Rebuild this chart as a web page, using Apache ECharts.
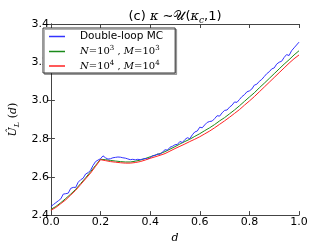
<!DOCTYPE html>
<html><head><meta charset="utf-8">
<script src="https://cdn.jsdelivr.net/npm/echarts@6/dist/echarts.min.js"></script>
<style>html,body{margin:0;padding:0;background:#fff}#c{width:332px;height:249px}</style>
</head><body><div id="c"></div>
<script>
var xTicks = [0.0, 0.2, 0.4, 0.6, 0.8, 1.0];
var yTicks = [2.4, 2.6, 2.8, 3.0, 3.2, 3.4];
var seriesNames = ['Double-loop MC', 'N=10^3 , M=10^3', 'N=10^4 , M=10^4'];

var dBlue = [0.00,0.01,0.02,0.03,0.04,0.05,0.06,0.07,0.08,0.09,0.10,0.11,0.12,0.13,0.14,0.15,0.16,0.17,0.18,0.19,0.20,0.21,0.22,0.23,0.24,0.25,0.26,0.27,0.28,0.29,0.30,0.31,0.32,0.33,0.34,0.35,0.36,0.37,0.38,0.39,0.40,0.41,0.42,0.43,0.44,0.45,0.46,0.47,0.48,0.49,0.50,0.51,0.52,0.53,0.54,0.55,0.56,0.57,0.58,0.59,0.60,0.61,0.62,0.63,0.64,0.65,0.66,0.67,0.68,0.69,0.70,0.71,0.72,0.73,0.74,0.75,0.76,0.77,0.78,0.79,0.80,0.81,0.82,0.83,0.84,0.85,0.86,0.87,0.88,0.89,0.90,0.91,0.92,0.93,0.94,0.95,0.96,0.97,0.98,0.99,1.00];
var blueMC = [2.445,2.455,2.465,2.475,2.485,2.51,2.512,2.515,2.54,2.545,2.545,2.572,2.585,2.593,2.615,2.622,2.635,2.66,2.68,2.688,2.695,2.71,2.70,2.693,2.695,2.70,2.702,2.704,2.703,2.70,2.698,2.694,2.69,2.692,2.689,2.692,2.69,2.693,2.696,2.694,2.70,2.71,2.712,2.72,2.718,2.73,2.742,2.74,2.755,2.76,2.768,2.77,2.785,2.78,2.795,2.805,2.80,2.82,2.835,2.84,2.86,2.857,2.872,2.885,2.89,2.892,2.905,2.92,2.918,2.935,2.948,2.95,2.965,2.975,2.992,2.99,3.005,3.02,3.03,3.045,3.05,3.06,3.08,3.085,3.10,3.11,3.125,3.14,3.15,3.165,3.17,3.19,3.20,3.205,3.225,3.24,3.235,3.26,3.275,3.29,3.305];

var dSmooth = [0.00,0.02,0.04,0.06,0.08,0.10,0.12,0.14,0.16,0.18,0.20,0.22,0.24,0.26,0.28,0.30,0.32,0.34,0.36,0.38,0.40,0.42,0.44,0.46,0.48,0.50,0.52,0.54,0.56,0.58,0.60,0.62,0.64,0.66,0.68,0.70,0.72,0.74,0.76,0.78,0.80,0.82,0.84,0.86,0.88,0.90,0.92,0.94,0.96,0.98,1.00];
var green3 = [2.43,2.445,2.465,2.487,2.51,2.535,2.565,2.595,2.627,2.66,2.692,2.69,2.686,2.683,2.68,2.678,2.678,2.682,2.688,2.696,2.705,2.714,2.722,2.732,2.745,2.758,2.772,2.785,2.797,2.812,2.826,2.842,2.857,2.874,2.893,2.91,2.93,2.95,2.972,2.995,3.018,3.04,3.066,3.09,3.115,3.14,3.165,3.19,3.213,3.238,3.26];
var red4 = [2.425,2.44,2.46,2.48,2.505,2.53,2.56,2.59,2.62,2.655,2.69,2.685,2.68,2.677,2.674,2.672,2.672,2.675,2.68,2.688,2.697,2.705,2.713,2.722,2.735,2.748,2.76,2.772,2.785,2.797,2.81,2.825,2.84,2.857,2.875,2.893,2.912,2.932,2.952,2.975,2.997,3.02,3.045,3.07,3.095,3.12,3.145,3.17,3.195,3.218,3.238];

function zip(xs, ys){ return xs.map(function(x,i){ return [x, ys[i]]; }); }

var chart = echarts.init(document.getElementById('c'), null, {renderer:'canvas'});
var axisCol = '#444';
var mathRich = {
  i: {fontFamily:'DejaVu Serif', fontStyle:'italic', fontSize:10, color:'#000'},
  n: {fontFamily:'DejaVu Serif', fontSize:10, color:'#000'},
  s: {fontFamily:'DejaVu Serif', fontSize:7, color:'#000', padding:[0,0,6,0]},
  t: {fontFamily:'DejaVu Sans', fontSize:10.5, color:'#000'}
};
var legendFmt = {};
legendFmt[seriesNames[0]] = '{t|Double-loop MC}';
legendFmt[seriesNames[1]] = '{i|N}{n|=10}{s|3}{n| , }{i|M}{n|=10}{s|3}';
legendFmt[seriesNames[2]] = '{i|N}{n|=10}{s|4}{n| , }{i|M}{n|=10}{s|4}';

var option = {
  animation: false,
  backgroundColor: '#fff',
  title: {
    text: '{a|(c) }{k|κ}{a| ∼}{u|𝒰}{a|(}{k|κ}{sub|c}{a|,1)}',
    left: 170, top: 4, textAlign: 'center',
    textStyle: {
      fontWeight: 'normal',
      rich: {
        a: {fontFamily:'DejaVu Sans', fontSize:13, fontWeight:'normal', color:'#000'},
        u: {fontFamily:'DejaVu Serif', fontSize:13, fontWeight:'normal', color:'#000'},
        k: {fontFamily:'DejaVu Serif', fontStyle:'italic', fontWeight:'normal', fontSize:13, color:'#000'},
        sub: {fontFamily:'DejaVu Serif', fontStyle:'italic', fontWeight:'normal', fontSize:9, color:'#000', padding:[7,0,0,0]}
      }
    }
  },
  grid: {left: 41, right: 33, top: 24, bottom: 26, show: false},
  legend: {
    left: 43, top: 28, orient: 'vertical', itemGap: 3,
    itemWidth: 16, itemHeight: 1.5, icon: 'rect',
    backgroundColor: '#fff', borderColor: '#333', borderWidth: 1, borderRadius: 0,
    padding: [3, 12, 2, 6],
    shadowColor: 'rgba(0,0,0,0.3)', shadowOffsetX: 1.5, shadowOffsetY: 1.5, shadowBlur: 0,
    data: seriesNames,
    formatter: function(name){ return legendFmt[name]; },
    textStyle: {rich: mathRich, padding:[0,0,0,10]}
  },
  xAxis: [{
    type: 'value', min: 0, max: 1, interval: 0.2, position: 'bottom',
    name: 'd', nameLocation: 'middle', nameGap: 16,
    nameTextStyle: {fontFamily:'DejaVu Serif', fontStyle:'italic', fontSize:11, color:'#000'},
    axisLine: {show: true, lineStyle: {color: axisCol, width: 1}},
    axisTick: {show: true, inside: true, length: 4, lineStyle: {color: axisCol}},
    axisLabel: {color:'#000', fontFamily:'DejaVu Sans', fontSize:11, margin: 2,
      formatter: function(v){ return v.toFixed(1); }},
    splitLine: {show: false}
  },{
    type: 'value', min: 0, max: 1, interval: 0.2, position: 'top',
    axisLine: {show: true, lineStyle: {color: axisCol, width: 1}},
    axisTick: {show: true, inside: true, length: 4, lineStyle: {color: axisCol}},
    axisLabel: {show: false}, splitLine: {show: false}
  }],
  yAxis: [{
    type: 'value', min: 2.4, max: 3.4, interval: 0.2, position: 'left',
    name: '{i|Û}{sub|L}{n| (}{i|d}{n|)}', nameLocation: 'middle', nameGap: 22, nameRotate: 90,
    nameTextStyle: {rich: {
      i: {fontFamily:'DejaVu Serif', fontStyle:'italic', fontSize:11, color:'#000'},
      n: {fontFamily:'DejaVu Serif', fontSize:11, color:'#000'},
      sub: {fontFamily:'DejaVu Serif', fontStyle:'italic', fontSize:8, color:'#000', padding:[6,0,0,0]}
    }},
    axisLine: {show: true, lineStyle: {color: axisCol, width: 1}},
    axisTick: {show: true, inside: true, length: 4, lineStyle: {color: axisCol}},
    axisLabel: {color:'#000', fontFamily:'DejaVu Sans', fontSize:11, margin: 2,
      formatter: function(v){ return v.toFixed(1); }},
    splitLine: {show: false}
  },{
    type: 'value', min: 2.4, max: 3.4, interval: 0.2, position: 'right',
    axisLine: {show: true, lineStyle: {color: axisCol, width: 1}},
    axisTick: {show: true, inside: true, length: 4, lineStyle: {color: axisCol}},
    axisLabel: {show: false}, splitLine: {show: false}
  }],
  series: [
    {name: seriesNames[0], type:'line', data: zip(dBlue, blueMC), showSymbol:false, symbol:'none',
     lineStyle:{color:'#3333ff', width:1}, itemStyle:{color:'#3333ff'}, z: 3},
    {name: seriesNames[1], type:'line', data: zip(dSmooth, green3), showSymbol:false, symbol:'none',
     lineStyle:{color:'#1a8a1a', width:1}, itemStyle:{color:'#1a8a1a'}, z: 2},
    {name: seriesNames[2], type:'line', data: zip(dSmooth, red4), showSymbol:false, symbol:'none',
     lineStyle:{color:'#ff2222', width:1}, itemStyle:{color:'#ff2222'}, z: 4}
  ]
};
chart.setOption(option);
</script>
</body></html>
